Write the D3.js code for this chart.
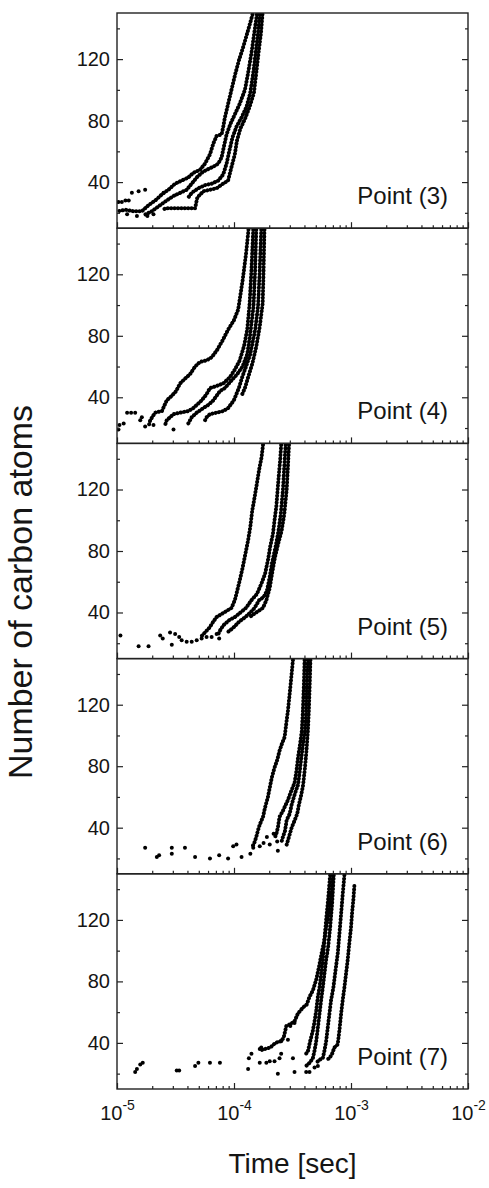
<!DOCTYPE html>
<html>
<head>
<meta charset="utf-8">
<script src="https://cdn.jsdelivr.net/npm/d3@7/dist/d3.min.js"></script>
<style>
  body { margin: 0; background: #fff; }
  text { font-family: Arial, "Liberation Sans", sans-serif; fill: #151515; }
</style>
</head>
<body>
<div id="chart"></div>
<script>
// values: [time in microseconds, number of carbon atoms]
const panelNames = ["Point (3)", "Point (4)", "Point (5)", "Point (6)", "Point (7)"];

const p3Runs = [
  [[144,149],[130,137],[120,128],[110,119],[103,111],[96.5,102],[90.4,93],[83.6,82],[80.9,76],[78.3,71],[71,70],[66.5,65],[62.3,58],[56.5,52],[51.2,48],[44.9,46],[40.7,43],[35.7,41],[31.4,39],[27.5,35],[24.2,32],[21.2,28],[18.6,25],[16.3,21],[13.9,21],[11.8,22],[10.1,21]],
  [[157,149],[149,137],[141,124],[132,111],[124,100],[112,91],[101.6,84],[93.4,78],[86.4,71],[81.9,63],[78.3,56],[73.4,52],[66.5,50],[58.3,48],[52.9,46],[48,43],[43.5,39],[39.4,35],[34.6,33],[30.4,31],[26.6,28],[23.4,25],[19.8,21],[17.5,19]],
  [[166,149],[160.5,137],[153,124],[146,111],[137.6,98],[128,89],[116,82],[105,76],[97,69],[91,60],[86.4,52],[80.9,45],[73.4,41],[64.4,39],[56.5,38],[49.6,36],[43.5,33],[40.7,30]],
  [[175,149],[170,137],[162,124],[155,111],[148,98],[136,89],[124,81],[113.5,75],[106,67],[101.6,58],[95.3,50],[89,41],[80.9,39],[71,36],[62.3,35],[54.7,34],[48.6,30],[46.5,23],[39.4,23],[32.4,23],[26.6,23],[24.2,22]]
];
const p3Dots = [[10.3,27],[11,27],[11.8,28],[12.6,28],[13.4,33],[15.3,34],[17.4,35],[12.2,19],[14.8,18],[18.2,18],[20.5,19],[25,33]];

const p4Runs = [
  [[133,149],[127,134],[118.5,116],[108.5,97],[99.7,90],[89,84],[79.9,77],[72,71],[64.4,66],[58.3,64],[51.2,63],[46.5,60],[42.1,55],[38,52],[34.6,49],[32,44],[29.4,41],[26.6,38],[24.2,31],[21.2,30],[19.2,25],[18.6,21]],
  [[146,149],[141,123],[136,101],[129.7,84],[121.6,73],[112,64],[101.6,58],[92.2,53],[80.9,49],[68.7,47],[62.3,46],[58.3,42],[52.9,38],[48,35],[44.9,33],[40.7,31],[34.6,30],[30.4,29],[28.4,27],[26.6,25],[25.8,22]],
  [[155,149],[151.7,123],[146.7,99],[137.6,81],[129.7,68],[118.4,60],[106.4,55],[95.3,51],[83.6,46],[75.8,44],[71,41],[66.5,38],[60.3,35],[54.7,33],[48,30],[43.5,27],[40.7,23]],
  [[171,149],[166,123],[160.5,99],[151.7,84],[137.6,68],[126.7,60],[117.4,53],[110,46],[99.7,38],[89,33],[80.9,31],[71,30],[62.3,29],[58.3,27],[56.5,25]],
  [[182,149],[179,123],[175.8,101],[166,86],[155,73],[143.5,62],[132,53],[124,46],[116,41]]
];
const p4Dots = [[10.3,19],[10.5,22],[11.4,23],[12.2,30],[13.2,30],[14.3,30],[15.8,25],[17.4,21],[20.5,22],[30.4,19],[16.3,27]];

const p5Runs = [
  [[177,149],[172,141],[164,133],[157,124],[150,115],[143,106],[138,96],[132,87],[125,78],[118.4,69],[112,61],[106.4,54],[101.6,48],[95.3,43],[86.4,41],[78.3,39],[71,37],[66.5,34],[61.5,30],[56.5,27],[51.8,24]],
  [[253,149],[248,139],[242,130],[236,120],[230,109],[222,100],[215,91],[204,83],[195,74],[184,65],[172,59],[157,52],[141,48],[126.7,43],[113.5,40],[101.6,37],[91,35],[82,32],[76.8,29],[73.4,26]],
  [[276,149],[269,135],[262,120],[251,104],[240,93],[227,83],[211,72],[202,63],[191,54],[179,50],[164,48],[150,43],[138,40],[125,37],[110.5,34],[98.4,30],[87.6,27]],
  [[295,149],[289,135],[282,120],[269,104],[255,93],[239,85],[224,76],[211,65],[202,56],[189,48],[177,43],[162,41],[148,39],[136,37]]
];
const p5Dots = [[10.7,25],[15.3,18],[18.6,18],[23.4,25],[24.6,23],[28.4,27],[31.4,26],[34,24],[29.4,19],[35.7,22],[39.4,21],[43.5,21],[48,22],[52.9,23],[58.3,24],[64.4,24],[71,26],[74.7,23]];

const p6Runs = [
  [[319,149],[309,138],[299,127],[289,116],[280,108],[271,99],[258,95],[245,90],[234,84],[222,79],[211,73],[202,66],[195,60],[184,53],[177,47],[166,42],[160,38],[155,34],[149,30],[142,27]],
  [[401,149],[396,134],[388,116],[380,103],[368,95],[353,86],[342,77],[329,69],[309,64],[289,58],[262,51],[245,47],[237,40],[230,36],[222,33]],
  [[428,149],[419,134],[414,116],[404,103],[390,95],[377,86],[365,77],[353,68],[331,62],[311,55],[299,49],[282,45],[273,38],[262,34],[253,30]],
  [[450,149],[444,134],[436,116],[428,103],[416,90],[404,79],[390,68],[377,62],[359,55],[347,49],[331,45],[311,40],[295,34],[282,29]]
];
const p6Dots = [[17.4,27],[21.9,21],[22.9,22],[29.4,27],[29.4,23],[38.1,27],[46.5,21],[62.3,20],[74.7,22],[89,20],[98.4,28],[105,29],[116,21],[138,23],[146,27],[166,28],[179,30],[191,34],[202,29],[218,36],[234,31],[237,25]];

const p7Runs = [
  [[698,149],[676,137],[646,124],[613,115],[593,107],[560,98],[531,89],[504,81],[472,74],[442,70],[419,65],[388,63],[351,59],[329,54],[299,52],[280,51],[265,43],[248,41],[226,40],[204,37],[183,36],[166,35]],
  [[663,149],[637,133],[613,120],[593,107],[574,94],[556,85],[538,76],[521,70],[504,61],[488,54],[472,48],[447,41],[430,35],[414,33]],
  [[712,149],[690,131],[663,115],[637,102],[613,94],[593,85],[574,76],[556,68],[538,59],[521,50],[504,41],[488,35],[472,30],[442,27],[414,25]],
  [[878,149],[850,137],[823,124],[796,111],[770,98],[737,87],[707,76],[676,68],[654,59],[633,50],[613,41],[593,35],[574,30],[538,29],[504,27]],
  [[1068,142],[1047,133],[1020,124],[1000,115],[968,105],[937,94],[907,85],[878,76],[850,68],[823,59],[796,48],[770,39],[721,37],[690,33],[654,30],[613,29]]
];
const p7Dots = [[14.3,21],[14.8,23],[15.8,26],[16.6,27],[32.4,22],[34,22],[46.5,25],[49.6,27],[62.3,27],[75.8,27],[132,23],[134,30],[141,33],[166,36],[171,37],[166,27],[189,27],[202,28],[222,28],[237,20],[245,30],[253,33],[253,41],[289,42],[303,51],[329,53],[319,30],[329,21],[414,21],[442,21],[488,24],[521,25]];

const allRuns = [p3Runs, p4Runs, p5Runs, p6Runs, p7Runs];
const allDots = [p3Dots, p4Dots, p5Dots, p6Dots, p7Dots];

const yMajor = [40, 80, 120];
const yMinor = [20, 60, 100, 140];

// layout
const W = 489, H = 1188;
const margin = {top: 13, left: 117};
const pw = 351, ph = 215.2;

const svg = d3.select("#chart").append("svg")
    .attr("width", W)
    .attr("height", H);

const x = d3.scaleLog().domain([1e-5, 1e-2]).range([0, pw]);
const y = d3.scaleLinear().domain([10, 150]).range([ph, 0]);

const xAll = x.ticks();
const xMajor = xAll.filter(d => Math.abs(Math.log10(d) - Math.round(Math.log10(d))) < 1e-6);
const xMinor = xAll.filter(d => !xMajor.includes(d));

const line = d3.line()
    .x(d => x(d[0] * 1e-6))
    .y(d => y(d[1]));

svg.append("defs").append("clipPath").attr("id", "clip")
  .append("rect").attr("width", pw).attr("height", ph);

panelNames.forEach((name, i) => {
  const g = svg.append("g")
      .attr("transform", `translate(${margin.left},${margin.top + i * ph})`);

  const plot = g.append("g").attr("clip-path", "url(#clip)");

  plot.selectAll("path.run")
    .data(allRuns[i])
    .join("path")
      .attr("class", "run")
      .attr("d", line)
      .attr("fill", "none")
      .attr("stroke", "#000")
      .attr("stroke-width", 4)
      .attr("stroke-linecap", "round")
      .attr("stroke-linejoin", "round")
      .attr("stroke-dasharray", "0.1 3.3");

  plot.selectAll("circle")
    .data(allDots[i])
    .join("circle")
      .attr("cx", d => x(d[0] * 1e-6))
      .attr("cy", d => y(d[1]))
      .attr("r", 2)
      .attr("fill", "#000");

  // axes, ticks pointing inward
  const yl = g.append("g").call(d3.axisLeft(y).tickValues(yMajor).tickSizeInner(-6).tickSizeOuter(0).tickPadding(7));
  g.append("g").call(d3.axisLeft(y).tickValues(yMinor).tickSizeInner(-3).tickSizeOuter(0).tickFormat(""));
  g.append("g").attr("transform", `translate(${pw},0)`)
    .call(d3.axisRight(y).tickValues(yMajor).tickSizeInner(-6).tickSizeOuter(0).tickFormat(""));
  g.append("g").attr("transform", `translate(${pw},0)`)
    .call(d3.axisRight(y).tickValues(yMinor).tickSizeInner(-3).tickSizeOuter(0).tickFormat(""));

  const last = i === panelNames.length - 1;
  const xb = g.append("g").attr("transform", `translate(0,${ph})`)
    .call(d3.axisBottom(x).tickValues(xMajor).tickSizeInner(-6).tickSizeOuter(0).tickPadding(13)
      .tickFormat(last ? (d => "10") : ""));
  g.append("g").attr("transform", `translate(0,${ph})`)
    .call(d3.axisBottom(x).tickValues(xMinor).tickSizeInner(-3).tickSizeOuter(0).tickFormat(""));

  yl.selectAll("text").attr("font-size", 20).attr("fill", "#151515");

  if (last) {
    xb.selectAll("text")
        .attr("font-size", 20)
        .attr("fill", "#151515")
        .attr("dy", "0.9em")
      .append("tspan")
        .attr("dy", "-0.75em")
        .attr("font-size", 14)
        .text(d => Math.round(Math.log10(d)));
  }

  g.selectAll(".domain").remove();
  g.selectAll(".tick line").attr("stroke", "#222").attr("stroke-width", 1.2);

  g.append("rect")
      .attr("width", pw)
      .attr("height", ph)
      .attr("fill", "none")
      .attr("stroke", "#222")
      .attr("stroke-width", 1.4);

  g.append("text")
      .attr("x", pw - 20)
      .attr("y", ph - 24)
      .attr("text-anchor", "end")
      .attr("font-size", 24)
      .text(name);
});

svg.append("text")
    .attr("x", margin.left + pw / 2)
    .attr("y", 1173)
    .attr("text-anchor", "middle")
    .attr("font-size", 28)
    .text("Time [sec]");

svg.append("text")
    .attr("transform", `translate(32,592) rotate(-90)`)
    .attr("text-anchor", "middle")
    .attr("font-size", 34)
    .text("Number of carbon atoms");
</script>
</body>
</html>
